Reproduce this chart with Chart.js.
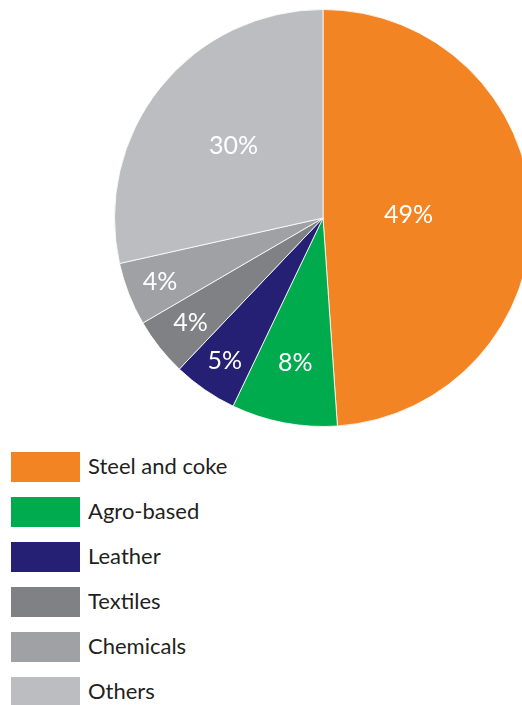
<!DOCTYPE html>
<html>
<head>
<meta charset="utf-8">
<script src="https://cdn.jsdelivr.net/npm/chart.js@4.4.1/dist/chart.umd.min.js"></script>
<style>
	body { margin: 0; width: 522px; height: 705px; overflow: hidden; background: #ffffff; position: relative; font-family: Lato, "Open Sans", sans-serif; }
	#pieWrap { position: absolute; left: 114px; top: 9px; width: 418px; height: 418px; }
	#legend { position: absolute; left: 11px; top: 452px; }
	.row { display: flex; align-items: center; height: 30px; margin-bottom: 15px; }
	.box { width: 69px; height: 30px; margin-right: 8px; }
	.lbl { font-size: 22px; color: #231f20; position: relative; top: -2px; }
</style>
</head>
<body>
<div id="pieWrap"><canvas id="myChart" width="418" height="418"></canvas></div>
<div id="legend"></div>
<script>
'use strict';

// categories, clockwise from 12 o'clock
var categories = ["Steel and coke", "Agro-based", "Leather", "Textiles", "Chemicals", "Others"];
// slice shares as drawn (percent)
var shares = [48.9, 8.2, 5.0, 4.5, 4.9, 28.5];
// printed labels
var pctLabels = ["49%", "8%", "5%", "4%", "4%", "30%"];
var colors = ["#f38423", "#00ab4e", "#252073", "#808184", "#a0a1a4", "#bcbdc0"];
// how far out each label sits (fraction of radius)
var labelRadius = [0.41, 0.71, 0.83, 0.81, 0.84, 0.55];

// draw percentage text inside slices
var sliceLabels = {
	id: 'sliceLabels',
	afterDatasetsDraw: function(chart) {
		var ctx = chart.ctx;
		var arcs = chart.getDatasetMeta(0).data;
		ctx.save();
		ctx.fillStyle = '#ffffff';
		ctx.font = '25px Lato, "Open Sans", sans-serif';
		ctx.textAlign = 'center';
		ctx.textBaseline = 'middle';
		arcs.forEach(function(arc, i) {
			var mid = (arc.startAngle + arc.endAngle) / 2;
			var r = arc.outerRadius * labelRadius[i];
			ctx.fillText(pctLabels[i], arc.x + Math.cos(mid) * r, arc.y + Math.sin(mid) * r);
		});
		ctx.restore();
	}
};

function drawLegend() {
	var html = '';
	for (var i = 0; i < categories.length; i++) {
		html += '<div class="row"><div class="box" style="background:' + colors[i] + '"></div>' +
			'<span class="lbl">' + categories[i] + '</span></div>';
	}
	document.getElementById('legend').innerHTML = html;
}

function drawPie() {
	var ctx = document.getElementById('myChart');
	new Chart(ctx, {
		type: 'pie',
		data: {
			labels: categories,
			datasets: [{
				data: shares,
				backgroundColor: colors,
				borderColor: 'rgba(255,255,255,0.8)',
				borderWidth: 1
			}]
		},
		options: {
			responsive: false,
			animation: false,
			layout: { padding: 0 },
			plugins: {
				legend: { display: false },
				tooltip: { enabled: false }
			}
		},
		plugins: [sliceLabels]
	});
}

drawLegend();
drawPie();
</script>
</body>
</html>
